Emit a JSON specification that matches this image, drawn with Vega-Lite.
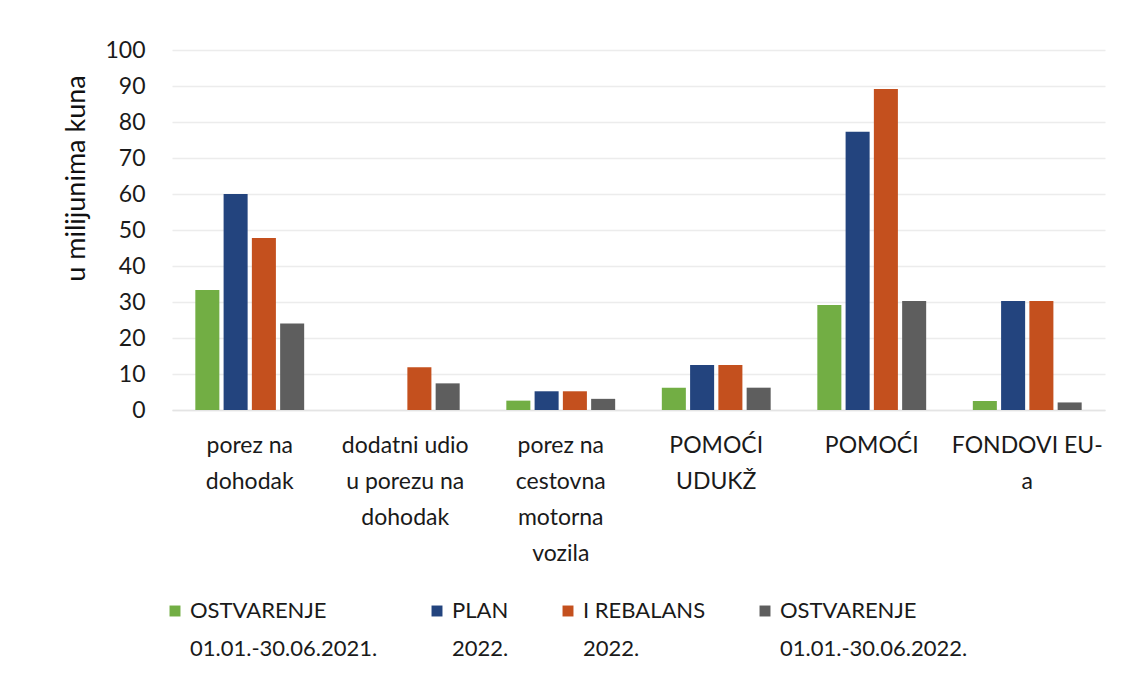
{
  "$schema": "https://vega.github.io/schema/vega-lite/v6.json",
  "width": 933,
  "height": 360,
  "autosize": {"type": "none"},
  "padding": {"left": 172, "top": 50, "right": 17, "bottom": 278},
  "background": "white",
  "config": {
    "font": "Lato",
    "view": {"stroke": null},
    "style": {"guide-label": {"lineHeight": 38}}
  },
  "data": {
    "values": [
      {"kategorija": "porez na|dohodak", "serija": "OSTVARENJE|01.01.-30.06.2021.", "iznos": 33.3},
      {"kategorija": "porez na|dohodak", "serija": "PLAN|2022.", "iznos": 60.0},
      {"kategorija": "porez na|dohodak", "serija": "I REBALANS|2022.", "iznos": 47.8},
      {"kategorija": "porez na|dohodak", "serija": "OSTVARENJE|01.01.-30.06.2022.", "iznos": 24.0},
      {"kategorija": "dodatni udio|u porezu na|dohodak", "serija": "I REBALANS|2022.", "iznos": 11.9},
      {"kategorija": "dodatni udio|u porezu na|dohodak", "serija": "OSTVARENJE|01.01.-30.06.2022.", "iznos": 7.4},
      {"kategorija": "porez na|cestovna|motorna|vozila", "serija": "OSTVARENJE|01.01.-30.06.2021.", "iznos": 2.6},
      {"kategorija": "porez na|cestovna|motorna|vozila", "serija": "PLAN|2022.", "iznos": 5.2},
      {"kategorija": "porez na|cestovna|motorna|vozila", "serija": "I REBALANS|2022.", "iznos": 5.2},
      {"kategorija": "porez na|cestovna|motorna|vozila", "serija": "OSTVARENJE|01.01.-30.06.2022.", "iznos": 3.1},
      {"kategorija": "POMOĆI|UDUKŽ", "serija": "OSTVARENJE|01.01.-30.06.2021.", "iznos": 6.2},
      {"kategorija": "POMOĆI|UDUKŽ", "serija": "PLAN|2022.", "iznos": 12.5},
      {"kategorija": "POMOĆI|UDUKŽ", "serija": "I REBALANS|2022.", "iznos": 12.5},
      {"kategorija": "POMOĆI|UDUKŽ", "serija": "OSTVARENJE|01.01.-30.06.2022.", "iznos": 6.2},
      {"kategorija": "POMOĆI", "serija": "OSTVARENJE|01.01.-30.06.2021.", "iznos": 29.2},
      {"kategorija": "POMOĆI", "serija": "PLAN|2022.", "iznos": 77.3},
      {"kategorija": "POMOĆI", "serija": "I REBALANS|2022.", "iznos": 89.2},
      {"kategorija": "POMOĆI", "serija": "OSTVARENJE|01.01.-30.06.2022.", "iznos": 30.3},
      {"kategorija": "FONDOVI EU-|a", "serija": "OSTVARENJE|01.01.-30.06.2021.", "iznos": 2.5},
      {"kategorija": "FONDOVI EU-|a", "serija": "PLAN|2022.", "iznos": 30.3},
      {"kategorija": "FONDOVI EU-|a", "serija": "I REBALANS|2022.", "iznos": 30.3},
      {"kategorija": "FONDOVI EU-|a", "serija": "OSTVARENJE|01.01.-30.06.2022.", "iznos": 2.1}
    ]
  },
  "mark": {"type": "bar"},
  "encoding": {
    "x": {
      "field": "kategorija",
      "type": "nominal",
      "sort": ["porez na|dohodak", "dodatni udio|u porezu na|dohodak", "porez na|cestovna|motorna|vozila", "POMOĆI|UDUKŽ", "POMOĆI", "FONDOVI EU-|a"],
      "scale": {"paddingInner": 0.3, "paddingOuter": 0.15},
      "axis": {
        "title": null,
        "labelAngle": 0,
        "labelExpr": "split(datum.label, '|')",
        "labelLineHeight": 36,
        "labelFontSize": 23,
        "labelColor": "#1a1a1a",
        "labelPadding": 24,
        "labelLimit": 200,
        "ticks": false,
        "domain": true,
        "domainColor": "#e4e4e4",
        "domainWidth": 1.5
      }
    },
    "xOffset": {
      "field": "serija",
      "type": "nominal",
      "scale": {"domain": ["OSTVARENJE|01.01.-30.06.2021.", "PLAN|2022.", "I REBALANS|2022.", "OSTVARENJE|01.01.-30.06.2022."], "paddingInner": 0.15}
    },
    "y": {
      "field": "iznos",
      "type": "quantitative",
      "scale": {"domain": [0, 100], "nice": false},
      "axis": {
        "title": "u milijunima kuna",
        "titleFontSize": 27,
        "titleFontWeight": "normal",
        "titleColor": "#111111",
        "titlePadding": 14,
        "titleY": 128,
        "values": [0, 10, 20, 30, 40, 50, 60, 70, 80, 90, 100],
        "labelFontSize": 23,
        "labelColor": "#1a1a1a",
        "labelPadding": 27,
        "ticks": false,
        "domain": false,
        "gridColor": "#ececec",
        "gridWidth": 1.5
      }
    },
    "color": {
      "field": "serija",
      "type": "nominal",
      "scale": {
        "domain": ["OSTVARENJE|01.01.-30.06.2021.", "PLAN|2022.", "I REBALANS|2022.", "OSTVARENJE|01.01.-30.06.2022."],
        "range": ["#72AE44", "#23447E", "#C4501E", "#5E5E5E"]
      },
      "legend": {
        "title": null,
        "orient": "none",
        "legendX": -8,
        "legendY": 550,
        "direction": "horizontal",
        "columns": 4,
        "labelExpr": "split(datum.label, '|')",
        "labelFontSize": 22,
        "labelColor": "#1a1a1a",
        "labelLimit": 300,
        "labelOffset": 4,
        "symbolType": "square",
        "symbolSize": 120,
        "symbolStrokeWidth": 0,
        "columnPadding": 48
      }
    }
  }
}
